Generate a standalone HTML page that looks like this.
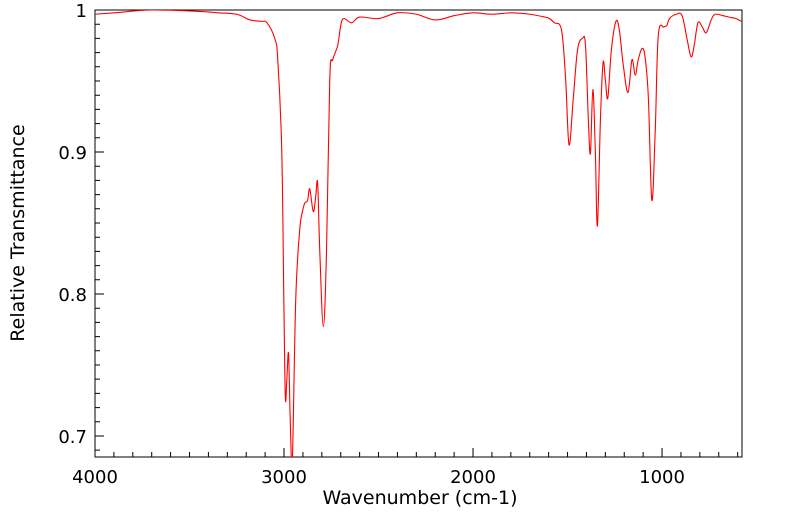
<!DOCTYPE html>
<html><head><meta charset="utf-8"><style>
html,body{margin:0;padding:0;background:#fff;}
svg{display:block;font-family:"DejaVu Sans","Liberation Sans",sans-serif;}
</style></head><body>
<svg id="chart" width="799" height="516" viewBox="0 0 799 516">
<rect x="95" y="10" width="647" height="447" fill="none" stroke="#000" stroke-width="1"/>
<g id="ticks"></g>
<g id="labels" font-size="18" fill="#000"></g>
<path id="spectrum" fill="none" stroke="#ff0000" stroke-width="1.1"/>
<text x="420" y="504" font-size="19" text-anchor="middle">Wavenumber (cm-1)</text>
<text x="24" y="233" font-size="19" text-anchor="middle" transform="rotate(-90 24 233)">Relative Transmittance</text>
</svg>
<script>
const wavenumbers=[4000,3900,3700,3450,3350,3250,3180,3120,3090,3049,3033,3012,3001,2993,2985,2976,2967,2956,2938,2917,2901,2890,2875,2864,2845,2832,2822,2811,2792,2775,2758,2742,2716,2700,2684,2642,2600,2500,2400,2300,2200,2100,2000,1900,1800,1700,1620,1596,1570,1532,1510,1492,1470,1447,1421,1405,1390,1379,1366,1353,1342,1326,1312,1300,1287,1268,1244,1226,1205,1180,1159,1142,1126,1104,1088,1072,1054,1036,1020,990,975,960,925,894,867,846,830,810,787,766,740,719,677,645,610,581];
const transmittance=[0.997,0.998,1.0,0.999,0.998,0.997,0.993,0.992,0.991,0.98,0.965,0.901,0.796,0.727,0.74,0.758,0.711,0.683,0.796,0.845,0.859,0.864,0.866,0.874,0.858,0.869,0.878,0.831,0.777,0.831,0.951,0.965,0.975,0.989,0.994,0.991,0.995,0.994,0.998,0.997,0.993,0.996,0.998,0.997,0.998,0.997,0.995,0.994,0.991,0.986,0.951,0.905,0.937,0.972,0.98,0.975,0.923,0.899,0.944,0.901,0.848,0.923,0.963,0.951,0.938,0.972,0.992,0.986,0.961,0.942,0.965,0.954,0.965,0.973,0.965,0.937,0.866,0.915,0.982,0.988,0.989,0.994,0.997,0.996,0.979,0.967,0.975,0.991,0.988,0.984,0.993,0.997,0.996,0.995,0.994,0.992];
const xTicks=[4000,3000,2000,1000];
const yTicks=[0.7,0.8,0.9,1];
const yTickLabels=["0.7","0.8","0.9","1"];

const L=95,R=742,T=10,B=457;
const xMax=4000,xMin=577,yMax=1,yMin=0.6852;
const X=w=>L+(xMax-w)/(xMax-xMin)*(R-L);
const Y=t=>T+(yMax-t)/(yMax-yMin)*(B-T);
const NS="http://www.w3.org/2000/svg";
const pts=wavenumbers.map((w,i)=>[X(w),Y(transmittance[i])]);
let d="M"+pts[0][0].toFixed(2)+" "+pts[0][1].toFixed(2);
for(let i=0;i<pts.length-1;i++){
  const p0=pts[Math.max(i-1,0)],p1=pts[i],p2=pts[i+1],p3=pts[Math.min(i+2,pts.length-1)];
  const k=0.35;
  const c1=[p1[0]+(p2[0]-p0[0])*k/2,p1[1]+(p2[1]-p0[1])*k/2];
  const c2=[p2[0]-(p3[0]-p1[0])*k/2,p2[1]-(p3[1]-p1[1])*k/2];
  d+=`C${c1[0].toFixed(2)} ${c1[1].toFixed(2)} ${c2[0].toFixed(2)} ${c2[1].toFixed(2)} ${p2[0].toFixed(2)} ${p2[1].toFixed(2)}`;
}
const sp=document.getElementById("spectrum");
sp.setAttribute("d",d);
const cp=document.createElementNS(NS,"clipPath");cp.setAttribute("id","clip");
const cr=document.createElementNS(NS,"rect");cr.setAttribute("x",L);cr.setAttribute("y",T);cr.setAttribute("width",R-L);cr.setAttribute("height",B-T);
cp.appendChild(cr);document.getElementById("chart").appendChild(cp);
sp.setAttribute("clip-path","url(#clip)");
const tg=document.getElementById("ticks"),lg=document.getElementById("labels");
let td="";
for(let w=4000;w>=xMin;w-=100){const x=X(w);const len=(w%1000===0)?9:5;td+=`M${x} ${B}V${B-len}`;}
for(let v=69;v<=100;v++){const t=v/100;if(t<yMin)continue;const y=Y(t);const len=(v%10===0)?9:5;td+=`M${L} ${y}H${L+len}`;}
const tp=document.createElementNS(NS,"path");
tp.setAttribute("d",td);tp.setAttribute("stroke","#000");tp.setAttribute("fill","none");


tg.appendChild(tp);
xTicks.forEach(w=>{const t=document.createElementNS(NS,"text");


t.setAttribute("x",X(w));t.setAttribute("y",483);t.setAttribute("text-anchor","middle");t.textContent=String(w);lg.appendChild(t);});
yTicks.forEach((v,i)=>{const t=document.createElementNS(NS,"text");


t.setAttribute("x",87);t.setAttribute("y",Y(v)+7);t.setAttribute("text-anchor","end");t.textContent=yTickLabels[i];lg.appendChild(t);});
</script>
</body></html>
